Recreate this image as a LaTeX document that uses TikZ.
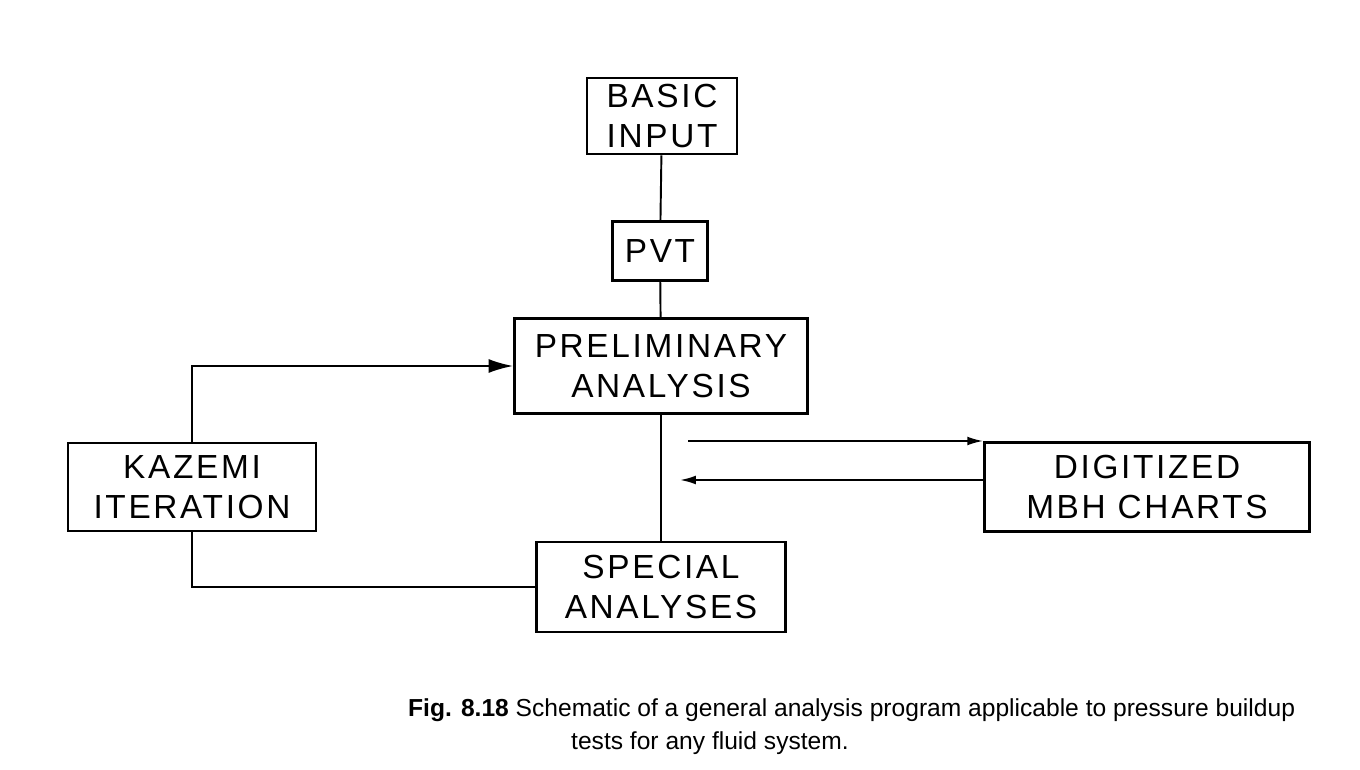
\documentclass[tikz,border=0pt]{standalone}
\usepackage{fontspec}
\setmainfont{Liberation Sans}
\newfontfamily\boxfont[LetterSpace=8]{Liberation Sans}
\usepackage{xcolor}
\usepackage{tikz}
\usetikzlibrary{arrows.meta}

\tikzset{
    block/.style={draw, line width=1.6pt, align=center, inner sep=0pt,
        font=\boxfont\fontsize{19}{23}\selectfont},
    link/.style={line width=1.1pt},
    bigtip/.style={link, -{Latex[length=14pt,width=8pt]}},
    smalltip/.style={link, -{Latex[length=9pt,width=5pt]}}
}

\begin{document}
\begin{tikzpicture}[x=0.02cm, y=-0.02cm]
    % Fix the page to the size of the figure
    \useasboundingbox (0,0) rectangle (1360,770);
    % Draw the blocks
    \node[block, minimum width=3cm, minimum height=1.52cm] (basic) at (662,116) {BASIC\\INPUT};
    \node[block, minimum width=1.9cm, minimum height=1.18cm] (pvt) at (660,251) {PVT};
    \node[block, minimum width=5.86cm, minimum height=1.9cm] (prelim) at (661,366) {PRELIMINARY\\ANALYSIS};
    \node[block, minimum width=4.96cm, minimum height=1.76cm] (kazemi) at (192,487) {KAZEMI\\ITERATION};
    \node[block, minimum width=4.98cm, minimum height=1.8cm] (special) at (661,587) {SPECIAL\\ANALYSES};
    \node[block, minimum width=6.5cm, minimum height=1.78cm] (digit) at (1147,487) {DIGITIZED\\MBH CHARTS};
    % Draw the main chain
    \draw[link] (basic) -- (pvt);
    \draw[link] (pvt) -- (prelim);
    \draw[link] (prelim) -- (special);
    % Draw the Kazemi loop
    \draw[link] (kazemi.south) |- (special.west);
    \draw[bigtip] (kazemi.north) |- (prelim.west);
    % Draw the arrows to and from the MBH charts
    \coordinate (out) at (688,441);
    \coordinate (back) at (680,480);
    \draw[smalltip] (out) -- (out -| digit.west);
    \draw[smalltip] (back -| digit.west) -- (back);
    % Caption
    \node[anchor=base west, font=\fontsize{14}{17}\selectfont] (cap1) at (402,716)
        {\textbf{Fig. 8.18} Schematic of a general analysis program applicable to pressure buildup};
    \node[anchor=base west, font=\fontsize{14}{17}\selectfont] (cap2) at (565,749)
        {tests for any fluid system.};
\end{tikzpicture}
\end{document}
